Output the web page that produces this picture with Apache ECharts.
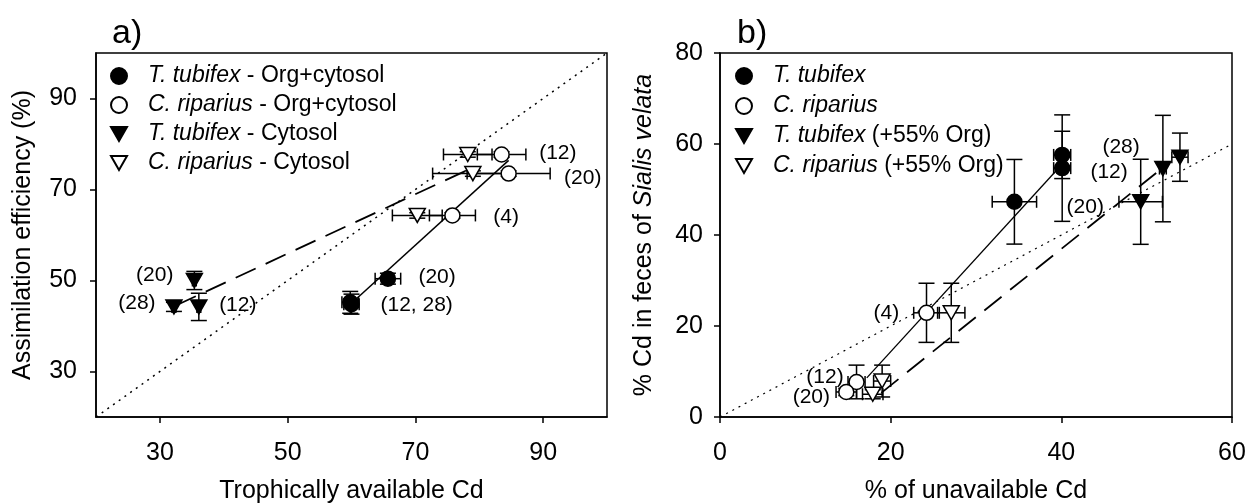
<!DOCTYPE html>
<html>
<head>
<meta charset="utf-8">
<script src="https://cdn.jsdelivr.net/npm/echarts@6.0.0/dist/echarts.min.js"></script>
<style>
  html, body { margin: 0; padding: 0; background: #fff; }
  #chart { width: 1253px; height: 504px; }
</style>
</head>
<body>
<div id="chart"></div>
<script>
// panel a: [x, y, xErr, yErr]
const aTubOrg = [[65.7, 50.4, 2.0, 1.2], [59.8, 45.2, 1.3, 2.4], [60.0, 44.8, 1.2, 2.2]]
const aRipOrg = [[83.5, 77.7, 3.8, 0.6], [84.6, 73.5, 6.5, 0.6], [75.8, 64.3, 3.6, 0.6]]
const aTubCyt = [[35.4, 50.0, 0.3, 2.0], [32.2, 44.2, 0.3, 1.0], [36.1, 44.2, 0.3, 3.0]]
const aRipCyt = [[78.2, 77.7, 3.8, 0.6], [79.0, 73.5, 6.3, 0.6], [70.3, 64.3, 3.9, 0.6]]
const aLineOrg = [[60, 45], [84.6, 76.4]]
const aLineCyt = [[32.5, 44.5], [78.5, 74.5]]
const aOneToOne = [[20, 20], [100, 100]]
const aLabels = [[92.3, 78.0, '(12)'], [96.2, 72.5, '(20)'], [84.2, 64.0, '(4)'], [73.4, 50.8, '(20)'],
  [70.2, 44.6, '(12, 28)'], [29.2, 51.2, '(20)'], [26.4, 45.1, '(28)'], [42.2, 44.6, '(12)']]
const aTicks = [30, 50, 70, 90]

// panel b
const bTub = [[34.5, 47.3, 2.6, 9.3], [40.1, 57.6, 1.0, 5.2], [40.1, 54.7, 1.0, 11.7]]
const bRip = [[24.2, 22.9, 1.5, 6.5], [16.0, 7.7, 1.0, 3.7], [14.8, 5.5, 1.2, 0.8]]
const bTubOrg = [[49.3, 47.3, 2.55, 9.35], [53.9, 57.1, 0.95, 5.3], [51.9, 54.6, 0.4, 11.7]]
const bRipOrg = [[27.1, 22.9, 1.6, 6.5], [19.0, 7.9, 1.0, 3.5], [17.9, 5.0, 1.2, 1.0]]
const bLineTub = [[17.2, 8.6], [40.3, 56.0]]
const bLineOrg = [[18.9, 5.3], [52.3, 55.4]]
const bOneToOne = [[0, 0], [60, 60]]
const bLabels = [[47.0, 59.3, '(28)'], [45.6, 53.8, '(12)'], [42.8, 46.2, '(20)'],
  [19.5, 22.9, '(4)'], [12.3, 8.8, '(12)'], [10.7, 4.4, '(20)']]

const FONT = 'Liberation Sans, Arial, sans-serif'
const DOWN = 'path://M0,0 L16,0 L8,14 Z'

function errorBars(params, api) {
  const x = api.value(0), y = api.value(1), ex = api.value(2), ey = api.value(3)
  const s = { stroke: '#000', lineWidth: 1.5 }
  const kids = []
  const seg = (p, q) => kids.push({ type: 'line', shape: { x1: p[0], y1: p[1], x2: q[0], y2: q[1] }, style: s })
  if (ex > 0) {
    const l = api.coord([x - ex, y]), r = api.coord([x + ex, y])
    seg(l, r)
    seg([l[0], l[1] - 6], [l[0], l[1] + 6])
    seg([r[0], r[1] - 6], [r[0], r[1] + 6])
  }
  if (ey > 0) {
    const t = api.coord([x, y + ey]), b = api.coord([x, y - ey])
    seg(t, b)
    seg([t[0] - 8, t[1]], [t[0] + 8, t[1]])
    seg([b[0] - 8, b[1]], [b[0] + 8, b[1]])
  }
  return { type: 'group', children: kids }
}

function points(name, data, gi, filled, down) {
  return [
    { type: 'custom', xAxisIndex: gi, yAxisIndex: gi, data: data, renderItem: errorBars, z: 3, silent: true },
    {
      name: name, type: 'scatter', xAxisIndex: gi, yAxisIndex: gi, data: data, z: 5,
      symbol: down ? 'triangle' : 'circle', symbolRotate: down ? 180 : 0,
      symbolSize: down ? [16, 14] : 15,
      itemStyle: { color: filled ? '#000' : '#fff', borderColor: '#000', borderWidth: 1.5, opacity: 1 }
    }
  ]
}

function fitLine(data, gi, type, width) {
  return { type: 'line', xAxisIndex: gi, yAxisIndex: gi, data: data, symbol: 'none', z: 2, silent: true,
    lineStyle: { color: '#000', width: width, type: type } }
}

function labels(data, gi) {
  return { type: 'scatter', xAxisIndex: gi, yAxisIndex: gi, data: data, symbolSize: 0, z: 6, silent: true,
    itemStyle: { color: '#000', opacity: 1 },
    label: { show: true, position: 'inside', formatter: p => p.data[2], color: '#000', opacity: 1,
      textBorderWidth: 0, textBorderColor: 'transparent', fontSize: 21, fontFamily: FONT } }
}

function legendFmt(name) {
  const m = name.match(/^([TC]\. \w+)(.*)$/)
  return '{i|' + m[1] + '}' + m[2]
}

function legend(names, left, gap) {
  return {
    orient: 'vertical', left: left, top: 59, itemWidth: 16, itemHeight: 16, itemGap: gap,
    data: names.map((n, i) => ({ name: n, icon: i < 2 ? 'circle' : DOWN })),
    formatter: legendFmt,
    textStyle: { fontSize: 23, fontFamily: FONT, color: '#000', lineHeight: 24, padding: [0, 0, 0, 16],
      rich: { i: { fontStyle: 'italic', fontSize: 23, fontFamily: FONT, color: '#000' } } }
  }
}

const axisCommon = {
  axisLine: { show: true, lineStyle: { color: '#000', width: 1.5 } },
  axisTick: { show: true, length: 6, lineStyle: { color: '#000', width: 1.5 } },
  splitLine: { show: false },
  nameLocation: 'middle',
  nameTextStyle: { fontSize: 25, fontFamily: FONT, color: '#000' }
}

const aNames = ['T. tubifex - Org+cytosol', 'C. riparius - Org+cytosol', 'T. tubifex - Cytosol', 'C. riparius - Cytosol']
const bNames = ['T. tubifex', 'C. riparius', 'T. tubifex (+55% Org)', 'C. riparius (+55% Org)']

const option = {
  backgroundColor: '#fff',
  animation: false,
  title: [
    { text: 'a)', left: 107, top: 12, textStyle: { fontSize: 34, fontWeight: 'normal', fontFamily: FONT, color: '#000' } },
    { text: 'b)', left: 732, top: 12, textStyle: { fontSize: 34, fontWeight: 'normal', fontFamily: FONT, color: '#000' } }
  ],
  legend: [legend(aNames, 105, 5), legend(bNames, 730, 6)],
  grid: [
    { left: 96, top: 53, width: 511, height: 364, show: true, borderColor: '#000', borderWidth: 1.5, outerBoundsMode: 'none' },
    { left: 720, top: 53, width: 512, height: 364, show: true, borderColor: '#000', borderWidth: 1.5, outerBoundsMode: 'none' }
  ],
  xAxis: [
    Object.assign({}, axisCommon, {
      type: 'value', gridIndex: 0, min: 20, max: 100, name: 'Trophically available Cd', nameGap: 62,
      axisTick: Object.assign({}, axisCommon.axisTick, { customValues: aTicks }),
      axisLabel: { customValues: aTicks, fontSize: 25, fontFamily: FONT, color: '#000', margin: 24 }
    }),
    Object.assign({}, axisCommon, {
      type: 'value', gridIndex: 1, min: 0, max: 60, interval: 20, name: '% of unavailable Cd', nameGap: 62,
      axisLabel: { fontSize: 25, fontFamily: FONT, color: '#000', margin: 24 }
    })
  ],
  yAxis: [
    Object.assign({}, axisCommon, {
      type: 'value', gridIndex: 0, min: 20, max: 100, name: 'Assimilation efficiency (%)', nameGap: 60,
      axisTick: Object.assign({}, axisCommon.axisTick, { customValues: aTicks }),
      axisLabel: { customValues: aTicks, fontSize: 25, fontFamily: FONT, color: '#000', margin: 19 }
    }),
    Object.assign({}, axisCommon, {
      type: 'value', gridIndex: 1, min: 0, max: 80, interval: 20, name: '% Cd in feces of {i|Sialis velata}', nameGap: 63,
      nameTextStyle: { fontSize: 25, fontFamily: FONT, color: '#000',
        rich: { i: { fontStyle: 'italic', fontSize: 25, fontFamily: FONT, color: '#000' } } },
      axisLabel: { fontSize: 25, fontFamily: FONT, color: '#000', margin: 17 }
    })
  ],
  series: [
    fitLine(aOneToOne, 0, [2, 5], 1.5),
    fitLine(aLineOrg, 0, 'solid', 1.5),
    fitLine(aLineCyt, 0, [22, 11], 1.8),
    ...points(aNames[0], aTubOrg, 0, true, false),
    ...points(aNames[1], aRipOrg, 0, false, false),
    ...points(aNames[2], aTubCyt, 0, true, true),
    ...points(aNames[3], aRipCyt, 0, false, true),
    labels(aLabels, 0),
    fitLine(bOneToOne, 1, [2, 5], 1.2),
    fitLine(bLineTub, 1, 'solid', 1.3),
    fitLine(bLineOrg, 1, [22, 11], 1.8),
    ...points(bNames[0], bTub, 1, true, false),
    ...points(bNames[1], bRip, 1, false, false),
    ...points(bNames[2], bTubOrg, 1, true, true),
    ...points(bNames[3], bRipOrg, 1, false, true),
    labels(bLabels, 1)
  ]
}

const myChart = echarts.init(document.getElementById('chart'))
myChart.setOption(option)
</script>
</body>
</html>
